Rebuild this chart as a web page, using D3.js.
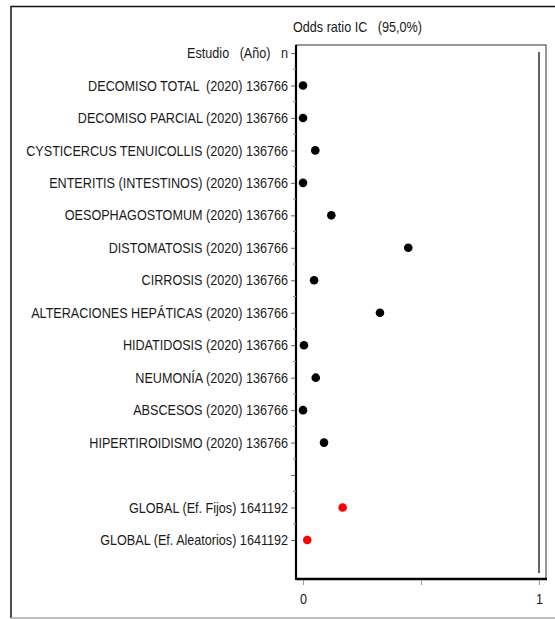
<!DOCTYPE html>
<html>
<head>
<meta charset="utf-8">
<script src="https://cdn.jsdelivr.net/npm/d3@7"></script>
<style>
  html, body { margin: 0; padding: 0; background: #fff; }
  svg { display: block; }
  text { font-family: "Liberation Sans", Arial, sans-serif; fill: #1a1a1a; white-space: pre; }
</style>
</head>
<body>
<svg id="chart" width="555" height="619"></svg>
<script>
// Study rows (top to bottom)
const studies = [
  "DECOMISO TOTAL  (2020) 136766",
  "DECOMISO PARCIAL (2020) 136766",
  "CYSTICERCUS TENUICOLLIS (2020) 136766",
  "ENTERITIS (INTESTINOS) (2020) 136766",
  "OESOPHAGOSTOMUM (2020) 136766",
  "DISTOMATOSIS (2020) 136766",
  "CIRROSIS (2020) 136766",
  "ALTERACIONES HEPÁTICAS (2020) 136766",
  "HIDATIDOSIS (2020) 136766",
  "NEUMONÍA (2020) 136766",
  "ABSCESOS (2020) 136766",
  "HIPERTIROIDISMO (2020) 136766"
];
const studyOR = [0.0, 0.0, 0.052, 0.0, 0.12, 0.446, 0.047, 0.326, 0.004, 0.054, 0.0, 0.089];

const pooled = ["GLOBAL (Ef. Fijos) 1641192", "GLOBAL (Ef. Aleatorios) 1641192"];
const pooledOR = [0.168, 0.018];

const headerLabel = "Estudio   (Año)   n";
const title = "Odds ratio IC   (95,0%)";
const xTicks = [0, 0.5, 1];
const xTickLabels = ["0", "", "1"];

// Narrow face: regular sans squeezed horizontally
const FONT_SIZE = 14.5;
const SQUEEZE = 0.87;

const svg = d3.select("#chart");

// Outer frame
svg.append("line").attr("x1", 11).attr("x2", 11).attr("y1", 6).attr("y2", 618)
  .attr("stroke", "#111").attr("stroke-width", 1.5);
svg.append("line").attr("x1", 11).attr("x2", 555).attr("y1", 6.5).attr("y2", 6.5)
  .attr("stroke", "#111").attr("stroke-width", 1.5);
svg.append("line").attr("x1", 11).attr("x2", 555).attr("y1", 618).attr("y2", 618)
  .attr("stroke", "#aaa").attr("stroke-width", 1.5);

// Plot area
const box = { left: 296, right: 546, top: 45, bottom: 579 };

// Row categories: header, studies, blank, pooled
const rows = [headerLabel, ...studies, "__blank__", ...pooled];
const y = d3.scalePoint().domain(rows).range([53, 540]);
const x = d3.scaleLinear().domain([0, 1]).range([303, 539]);

// Box
svg.append("rect")
  .attr("x", box.left).attr("y", box.top)
  .attr("width", box.right - box.left).attr("height", box.bottom - box.top)
  .attr("fill", "none").attr("stroke", "#333").attr("stroke-width", 1);
svg.append("line").attr("x1", box.left).attr("x2", box.left)
  .attr("y1", box.top).attr("y2", box.bottom + 1)
  .attr("stroke", "#000").attr("stroke-width", 2.2);
svg.append("line").attr("x1", box.left).attr("x2", box.right + 1)
  .attr("y1", box.bottom).attr("y2", box.bottom)
  .attr("stroke", "#000").attr("stroke-width", 2.6);

// Reference line at OR = 1
svg.append("line")
  .attr("x1", x(1)).attr("x2", x(1))
  .attr("y1", 52).attr("y2", 573)
  .attr("stroke", "#111").attr("stroke-width", 1.3);

// Title
svg.append("text")
  .attr("transform", `translate(293,27) scale(${SQUEEZE},1)`)
  .attr("dominant-baseline", "central")
  .attr("font-size", FONT_SIZE)
  .text(title);

// Minor ticks at every half-row
const step = y.step();
const minorYs = d3.range(y(headerLabel) + step / 2, y(pooled[1]), step);
svg.append("g").selectAll("line").data(minorYs).join("line")
  .attr("x1", box.left - 3).attr("x2", box.left)
  .attr("y1", d => d).attr("y2", d => d)
  .attr("stroke", "#888").attr("stroke-width", 1);

// Y axis with row labels
const yAxis = d3.axisLeft(y)
  .tickSize(4)
  .tickPadding(3)
  .tickFormat(d => d === "__blank__" ? "" : d);
const gy = svg.append("g")
  .attr("transform", `translate(${box.left - 1},0)`)
  .call(yAxis);
gy.select(".domain").remove();
gy.selectAll(".tick line").attr("stroke", "#666");
gy.selectAll(".tick text")
  .attr("x", -7 / SQUEEZE)
  .attr("transform", `scale(${SQUEEZE},1)`)
  .attr("font-size", FONT_SIZE)
  .attr("fill", "#1a1a1a")
  .style("font-family", "'Liberation Sans', Arial, sans-serif");

// X axis
const xAxis = d3.axisBottom(x)
  .tickValues(xTicks)
  .tickSize(5)
  .tickPadding(9)
  .tickFormat((d, i) => xTickLabels[i]);
const gx = svg.append("g")
  .attr("transform", `translate(0,${box.bottom + 1})`)
  .call(xAxis);
gx.select(".domain").remove();
gx.selectAll(".tick line").attr("stroke", "#999");
gx.selectAll(".tick text")
  .attr("transform", `scale(${SQUEEZE},1)`)
  .attr("font-size", FONT_SIZE)
  .attr("fill", "#1a1a1a")
  .style("font-family", "'Liberation Sans', Arial, sans-serif");

// Study point estimates
svg.append("g").selectAll("circle").data(studies).join("circle")
  .attr("cx", (d, i) => x(studyOR[i]))
  .attr("cy", d => y(d))
  .attr("r", 4.3)
  .attr("fill", "#000");

// Pooled estimates
svg.append("g").selectAll("circle").data(pooled).join("circle")
  .attr("cx", (d, i) => x(pooledOR[i]))
  .attr("cy", d => y(d))
  .attr("r", 4.3)
  .attr("fill", "#f00");
</script>
</body>
</html>
